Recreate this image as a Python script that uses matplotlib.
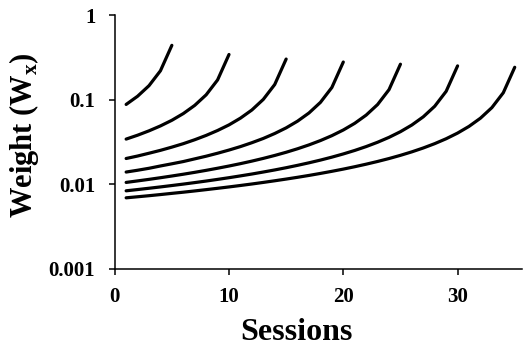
import matplotlib
matplotlib.use("Agg")
import matplotlib.pyplot as plt

# weight curves, one list per total session count, session 1..N
w5 = [0.0876, 0.1095, 0.146, 0.219, 0.438]
w10 = [0.0341, 0.0379, 0.0427, 0.0488, 0.0569, 0.0683, 0.0854, 0.1138, 0.1707, 0.3414]
w15 = [0.0201, 0.0215, 0.0232, 0.0251, 0.0274, 0.0301, 0.0335, 0.0377, 0.0431, 0.0502,
       0.0603, 0.0753, 0.1005, 0.1507, 0.3014]
w20 = [0.0139, 0.0146, 0.0154, 0.0164, 0.0174, 0.0185, 0.0199, 0.0214, 0.0232, 0.0253,
       0.0278, 0.0309, 0.0347, 0.0397, 0.0463, 0.0556, 0.0695, 0.0927, 0.139, 0.278]
w25 = [0.01048, 0.01092, 0.01139, 0.01191, 0.01248, 0.0131, 0.01379, 0.01456, 0.01542, 0.01638,
       0.01747, 0.01872, 0.02016, 0.02184, 0.02382, 0.02621, 0.02912, 0.03276, 0.03744, 0.04368,
       0.05241, 0.06552, 0.08735, 0.131, 0.262]
w30 = [0.00834, 0.00863, 0.00894, 0.00927, 0.00963, 0.01001, 0.01043, 0.01088, 0.01138, 0.01192,
       0.01252, 0.01317, 0.01391, 0.01472, 0.01564, 0.01669, 0.01788, 0.01925, 0.02086, 0.02276,
       0.02503, 0.02781, 0.03129, 0.03576, 0.04172, 0.05006, 0.06258, 0.08344, 0.1252, 0.2503]
w35 = [0.00689, 0.00709, 0.0073, 0.00753, 0.00778, 0.00803, 0.00831, 0.00861, 0.00893, 0.00927,
       0.00964, 0.01004, 0.01048, 0.01096, 0.01148, 0.01205, 0.01268, 0.01339, 0.01418, 0.01506,
       0.01607, 0.01722, 0.01854, 0.02008, 0.02191, 0.0241, 0.02678, 0.03013, 0.03443, 0.04017,
       0.0482, 0.06025, 0.08034, 0.1205, 0.241]
curves = [w5, w10, w15, w20, w25, w30, w35]

x_ticks = [0, 10, 20, 30]
y_ticks = [0.001, 0.01, 0.1, 1]
y_labels = ['0.001', '0.01', '0.1', '1']

plt.rcParams['font.family'] = ['Liberation Serif', 'DejaVu Serif']
plt.rcParams['font.weight'] = 'bold'
plt.rcParams['mathtext.fontset'] = 'custom'
plt.rcParams['mathtext.bf'] = 'Liberation Serif:bold'
plt.rcParams['mathtext.rm'] = 'Liberation Serif:bold'

fig = plt.figure(figsize=(5.25, 3.46), dpi=100)
ax = fig.add_axes([0.2185, 0.2234, 0.7750, 0.7332])

for w in curves:
    sessions = list(range(1, len(w) + 1))
    ax.plot(sessions, w, color='black', lw=2.3, solid_capstyle='round')

ax.set_yscale('log')
ax.set_xlim(0, 35.6)
ax.set_ylim(0.001, 1)
ax.set_xticks(x_ticks)
ax.set_yticks(y_ticks)
ax.set_yticklabels(y_labels)
ax.yaxis.set_minor_locator(matplotlib.ticker.NullLocator())

for s in ['top', 'right']:
    ax.spines[s].set_visible(False)
for s in ['left', 'bottom']:
    ax.spines[s].set_linewidth(1.1)
ax.tick_params(direction='out', length=4, width=1.1, labelsize=15)
ax.tick_params(axis='y', pad=10)
ax.tick_params(axis='x', pad=9)

ax.set_xlabel('Sessions', fontsize=23, fontweight='bold', va='baseline')
ax.xaxis.set_label_coords(0.4455, -0.281)
ax.set_ylabel('Weight (W$_{\\mathbf{x}}$)', fontsize=22, fontweight='bold', va='center')
ax.yaxis.set_label_coords(-0.223, 0.527)

fig.savefig('out.png', dpi=100)
